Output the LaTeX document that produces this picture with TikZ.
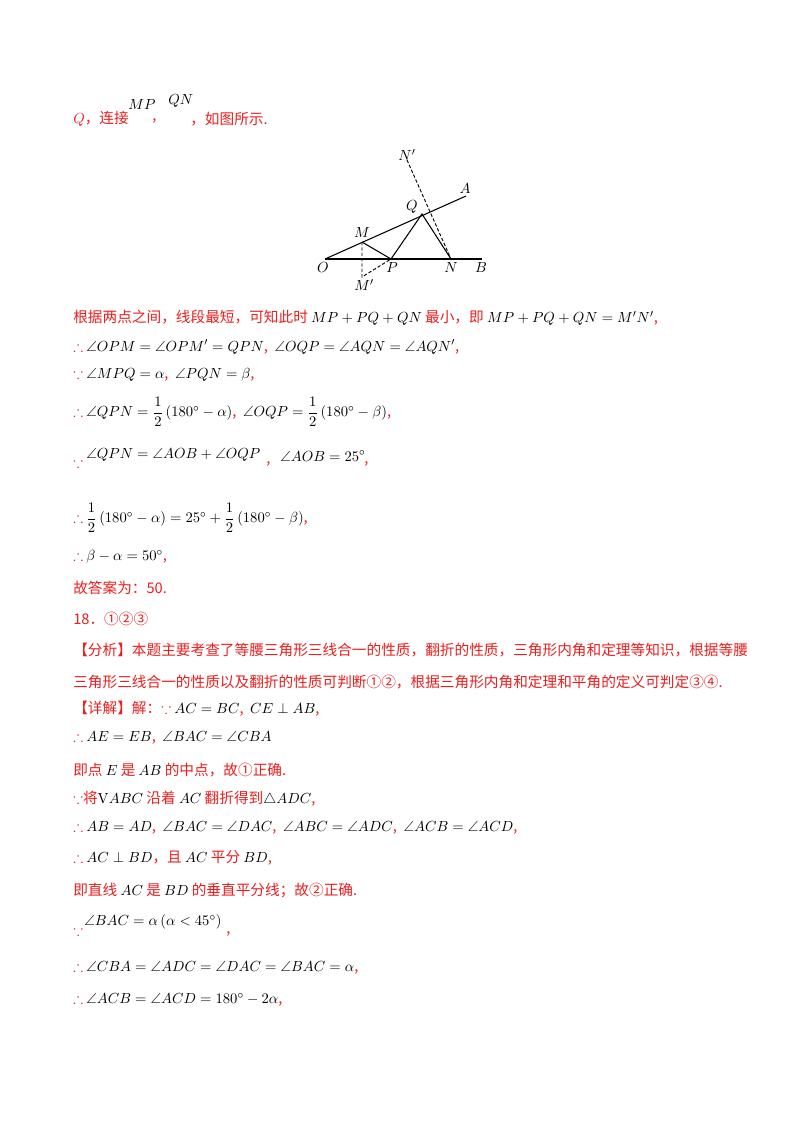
\documentclass[tikz,border=0pt]{standalone}
\usepackage{amsmath,amssymb}
\usepackage[no-math]{fontspec}
\setmainfont{Noto Sans CJK SC}
\definecolor{rd}{RGB}{235,30,30}
\newcommand{\rt}[1]{\textcolor{rd}{#1}}
\begin{document}
\begin{tikzpicture}[x=0.75pt,y=-0.75pt,
  ln/.style={anchor=west,inner sep=0pt,font=\fontsize{11}{13}\selectfont},
  pt/.style={inner sep=1pt,font=\fontsize{11}{12}\selectfont},
  seg/.style={line width=0.8pt},
  dsh/.style={line width=0.7pt,dashed,dash pattern=on 2.5pt off 1.5pt}]
\useasboundingbox (0,0) rectangle (800,1132);
% header line
\node[ln] (l0) at (73,119) {\rt{$Q$，连接}};
\node[ln] (mp) at (128,105) {$MP$};
\node[ln] (c1) at (152,121) {\rt{,}};
\node[ln] (qn) at (168,101) {$QN$};
\node[ln] (c2) at (190,119) {\rt{，如图所示.}};
% diagram
\coordinate (O) at (325,259);
\coordinate (B) at (482,259);
\coordinate (A) at (466,196);
\coordinate (M) at (362,242);
\coordinate (P) at (391,259);
\coordinate (Q) at (422,214);
\coordinate (N) at (451,259);
\coordinate (Np) at (407,160);
\coordinate (Mp) at (362,277);
\draw[seg] (O) -- (B);
\draw[seg] (O) -- (A);
\draw[seg] (M) -- (P) -- (Q) -- (N);
\draw[dsh] (M) -- (Mp) -- (P);
\draw[dsh] (Np) -- (N);
\node[pt] (tO) at (323,268) {$O$};
\node[pt] (tB) at (481,268) {$B$};
\node[pt] (tA) at (465,189) {$A$};
\node[pt] (tM) at (362,233) {$M$};
\node[pt] (tP) at (392,268) {$P$};
\node[pt] (tQ) at (412,207) {$Q$};
\node[pt] (tN) at (451,268) {$N$};
\node[pt] (tNp) at (407,155) {$N'$};
\node[pt] (tMp) at (364,285) {$M'$};
% body
\node[ln] (a1) at (73,318) {\rt{根据两点之间，线段最短，可知此时} $MP+PQ+QN$ \rt{最小，即} $MP+PQ+QN=M'N'$\rt{,}};
\node[ln] (a2) at (73,347) {\rt{$\therefore$} $\angle OPM=\angle OPM'=QPN$\rt{,}\ \ $\angle OQP=\angle AQN=\angle AQN'$\rt{,}};
\node[ln] (a3) at (73,375) {\rt{$\because$} $\angle MPQ=\alpha$\rt{,}\ \ $\angle PQN=\beta$\rt{,}};
\node[ln] (a4) at (73,412) {\rt{$\therefore$} $\angle QPN=\dfrac12\left(180^\circ-\alpha\right)$\rt{,}\ \ $\angle OQP=\dfrac12\left(180^\circ-\beta\right)$\rt{,}};
\node[ln] (a5a) at (73,462) {\rt{$\because$}};
\node[ln] (a5) at (86,455) {$\angle QPN=\angle AOB+\angle OQP$};
\node[ln] (a5b) at (266,464) {\rt{,}};
\node[ln] (a5c) at (280,456) {$\angle AOB=25^\circ$};
\node[ln] (a5d) at (364,464) {\rt{,}};
\node[ln] (a6) at (73,518) {\rt{$\therefore$} $\dfrac12\left(180^\circ-\alpha\right)=25^\circ+\dfrac12\left(180^\circ-\beta\right)$\rt{,}};
\node[ln] (a7) at (73,557) {\rt{$\therefore$} $\beta-\alpha=50^\circ$\rt{,}};
\node[ln] (a8) at (73,588) {\rt{故答案为：50.}};
\node[ln] (a9) at (73,619) {\rt{18．①②③}};
\node[ln] (a10) at (73,650) {\rt{【分析】本题主要考查了等腰三角形三线合一的性质，翻折的性质，三角形内角和定理等知识，根据等腰}};
\node[ln] (a11) at (73,682) {\rt{三角形三线合一的性质以及翻折的性质可判断①②，根据三角形内角和定理和平角的定义可判定③④.}};
\node[ln] (b1) at (73,709) {\rt{【详解】解：$\because$} $AC=BC$\rt{,}\ \ $CE\perp AB$\rt{,}};
\node[ln] (b2) at (73,738) {\rt{$\therefore$} $AE=EB$\rt{,}\ \ $\angle BAC=\angle CBA$};
\node[ln] (b3) at (73,770) {\rt{即点} $E$ \rt{是} $AB$ \rt{的中点，故①正确.}};
\node[ln] (b4) at (73,799) {\rt{$\because$将}$\mathrm{V}ABC$ \rt{沿着} $AC$ \rt{翻折得到}$\triangle ADC$\rt{,}};
\node[ln] (b5) at (73,828) {\rt{$\therefore$} $AB=AD$\rt{,}\ \ $\angle BAC=\angle DAC$\rt{,}\ \ $\angle ABC=\angle ADC$\rt{,}\ \ $\angle ACB=\angle ACD$\rt{,}};
\node[ln] (b6) at (73,858) {\rt{$\therefore$} $AC\perp BD$\rt{，且} $AC$ \rt{平分} $BD$\rt{,}};
\node[ln] (b7) at (73,890) {\rt{即直线} $AC$ \rt{是} $BD$ \rt{的垂直平分线；故②正确.}};
\node[ln] (b8a) at (73,930) {\rt{$\because$}};
\node[ln] (b8) at (84,922) {$\angle BAC=\alpha\left(\alpha<45^\circ\right)$};
\node[ln] (b8b) at (226,934) {\rt{,}};
\node[ln] (b9) at (73,968) {\rt{$\therefore$} $\angle CBA=\angle ADC=\angle DAC=\angle BAC=\alpha$\rt{,}};
\node[ln] (b10) at (73,1000) {\rt{$\therefore$} $\angle ACB=\angle ACD=180^\circ-2\alpha$\rt{,}};
\end{tikzpicture}
\end{document}
